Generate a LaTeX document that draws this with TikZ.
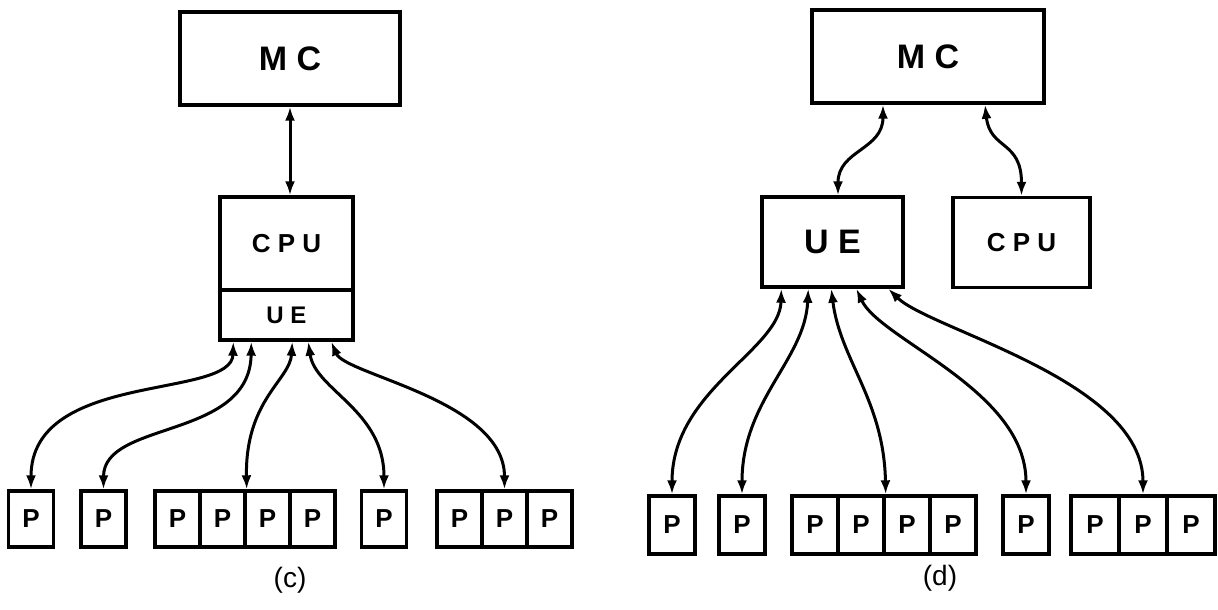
\documentclass[tikz,border=0pt]{standalone}
\usepackage{fontspec}
\setmainfont{Liberation Sans}
\usetikzlibrary{arrows.meta}
\begin{document}
\begin{tikzpicture}[x=1pt,y=-1pt,
  box/.style={draw,line width=3.4pt,inner sep=0pt},
  pbox/.style={box,minimum width=45pt,minimum height=56pt,font=\fontsize{26}{26}\selectfont\bfseries},
  pboxd/.style={pbox,minimum width=46pt,minimum height=58pt},
  link/.style={line width=3pt,{Latex[length=14pt,width=10pt]}-{Latex[length=14pt,width=10pt]}},
  lab/.style={font=\fontsize{28}{28}\selectfont}
]
\useasboundingbox (0,0) rectangle (1218,610);
% ---------- (c) ----------
\node[box,minimum width=220pt,minimum height=93pt,font=\fontsize{34}{34}\selectfont\bfseries] (mcc) at (290,58.5) {M C};
\node[box,minimum width=133pt,minimum height=93pt,font=\fontsize{26}{26}\selectfont\bfseries] (cpuc) at (286.5,243.5) {C P U};
\node[box,minimum width=133pt,minimum height=50pt,font=\fontsize{24}{24}\selectfont\bfseries] (uec) at (286.5,315) {U E};
\node[pbox] (pc1) at (31,519) {P};
\node[pbox] (pc2) at (103.5,519) {P};
\node[pbox] (pc3) at (177.5,519) {P};
\node[pbox] (pc4) at (222.5,519) {P};
\node[pbox] (pc5) at (267.5,519) {P};
\node[pbox] (pc6) at (312.5,519) {P};
\node[pbox] (pc7) at (384,519) {P};
\node[pbox] (pc8) at (459.5,519) {P};
\node[pbox] (pc9) at (504.5,519) {P};
\node[pbox] (pc10) at (549.5,519) {P};
\draw[link] (mcc.south) -- (mcc.south |- cpuc.north);
\draw[link] ([xshift=15pt]uec.south west) .. controls (232,400) and (31,370) .. (pc1.north);
\draw[link] ([xshift=33pt]uec.south west) .. controls (250,440) and (103.5,420) .. (pc2.north);
\draw[link] ([xshift=74pt]uec.south west) .. controls (290,380) and (245,400) .. (pc4.north east);
\draw[link] ([xshift=90pt]uec.south west) .. controls (315,390) and (384,410) .. (pc7.north);
\draw[link] ([xshift=113pt]uec.south west) .. controls (345,375) and (504.5,400) .. (pc9.north);
\node[lab] (labc) at (290,580) {(c)};
% ---------- (d) ----------
\node[box,minimum width=232pt,minimum height=93pt,font=\fontsize{34}{34}\selectfont\bfseries] (mcd) at (928,56.5) {M C};
\node[box,minimum width=141pt,minimum height=90pt,font=\fontsize{34}{34}\selectfont\bfseries] (ued) at (832.5,242) {U E};
\node[box,minimum width=137pt,minimum height=90pt,font=\fontsize{26}{26}\selectfont\bfseries] (cpud) at (1021.5,242.5) {C P U};
\node[pboxd] (pd1) at (672,525) {P};
\node[pboxd] (pd2) at (742,525) {P};
\node[pboxd] (pd3) at (815,525) {P};
\node[pboxd] (pd4) at (861,525) {P};
\node[pboxd] (pd5) at (907,525) {P};
\node[pboxd] (pd6) at (953,525) {P};
\node[pboxd] (pd7) at (1026,525) {P};
\node[pboxd,minimum width=48pt] (pd8) at (1095,525) {P};
\node[pboxd,minimum width=48pt] (pd9) at (1143,525) {P};
\node[pboxd,minimum width=48pt] (pd10) at (1191,525) {P};
\draw[link] ([xshift=-45pt]mcd.south) .. controls (883,150) and (838,150) .. ([xshift=5.5pt]ued.north);
\draw[link] ([xshift=57pt]mcd.south) .. controls (990,150) and (1021.5,140) .. (cpud.north);
\draw[link] ([xshift=21pt]ued.south west) .. controls (780,350) and (672,390) .. (pd1.north);
\draw[link] ([xshift=48pt]ued.south west) .. controls (805,360) and (742,400) .. (pd2.north);
\draw[link] ([xshift=71pt]ued.south west) .. controls (840,360) and (884,400) .. (pd4.north east);
\draw[link] ([xshift=96pt]ued.south west) .. controls (880,340) and (1026,390) .. (pd7.north);
\draw[link] ([xshift=128pt]ued.south west) .. controls (930,330) and (1143,380) .. (pd9.north);
\node[lab] (labd) at (940,578) {(d)};
\end{tikzpicture}
\end{document}
